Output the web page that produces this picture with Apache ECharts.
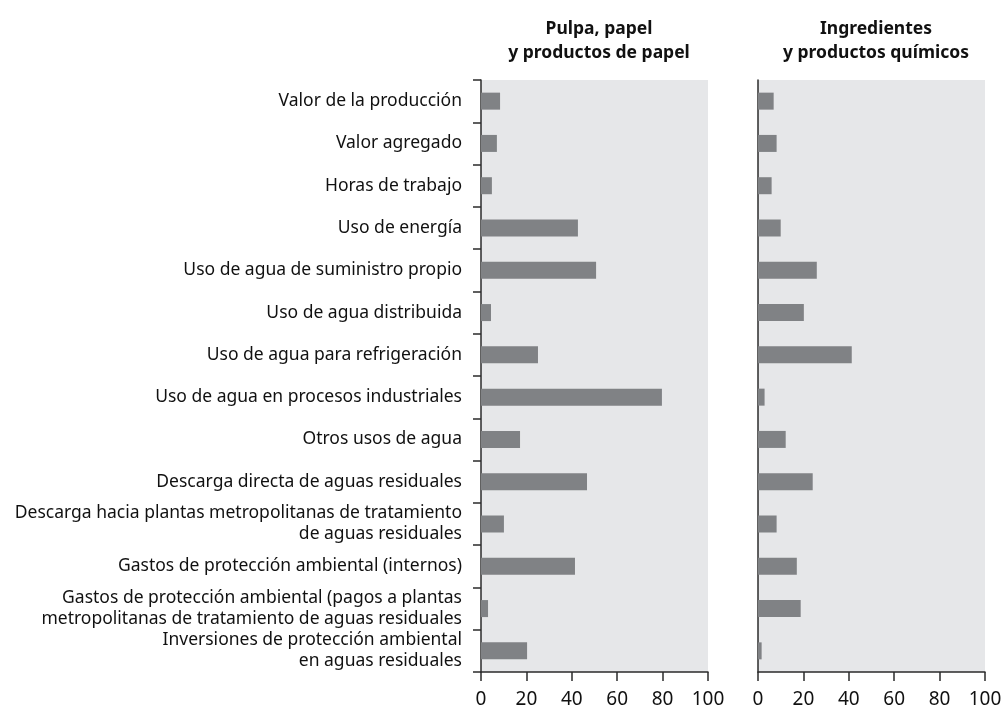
<!DOCTYPE html>
<html>
<head>
<meta charset="utf-8">
<script src="https://cdn.jsdelivr.net/npm/echarts@6/dist/echarts.min.js"></script>
<style>
html,body{margin:0;padding:0;background:#fff;}
#c{width:1003px;height:706px;}
</style>
</head>
<body>
<div id="c"></div>
<script>
const categories = [
  'Valor de la producción',
  'Valor agregado',
  'Horas de trabajo',
  'Uso de energía',
  'Uso de agua de suministro propio',
  'Uso de agua distribuida',
  'Uso de agua para refrigeración',
  'Uso de agua en procesos industriales',
  'Otros usos de agua',
  'Descarga directa de aguas residuales',
  'Descarga hacia plantas metropolitanas de tratamiento\nde aguas residuales',
  'Gastos de protección ambiental (internos)',
  'Gastos de protección ambiental (pagos a plantas\nmetropolitanas de tratamiento de aguas residuales',
  'Inversiones de protección ambiental\nen aguas residuales'
];
const panelTitles = ['Pulpa, papel\ny productos de papel', 'Ingredientes\ny productos químicos'];
const pulpaValues = [8.4, 7.0, 4.8, 42.7, 50.7, 4.4, 25.1, 79.7, 17.2, 46.7, 10.1, 41.4, 3.1, 20.3];
const quimicosValues = [6.9, 8.2, 6.0, 10.0, 25.9, 20.2, 41.3, 2.9, 12.2, 24.1, 8.2, 17.1, 18.8, 1.6];
const xTicks = [0, 20, 40, 60, 80, 100];

const FONT = 'Noto Sans';
const bg = '#e6e7e9';
const barColor = '#808285';
const axisColor = '#2b2b2b';

const chart = echarts.init(document.getElementById('c'), null, {renderer: 'canvas'});

function xAxisFor(idx) {
  return {
    type: 'value', gridIndex: idx, min: xTicks[0], max: xTicks[xTicks.length - 1],
    interval: xTicks[1] - xTicks[0],
    axisLine: {show: true, lineStyle: {color: axisColor, width: 1.5}},
    axisTick: {show: true, length: 9, lineStyle: {color: axisColor, width: 1.5}},
    axisLabel: {color: '#111', fontFamily: FONT, fontSize: 19, margin: 18},
    splitLine: {show: false}
  };
}

chart.setOption({
  animation: false,
  title: [
    {text: panelTitles[0], left: 594, top: 12, textAlign: 'center',
     textStyle: {fontFamily: FONT, fontWeight: 'bold', fontSize: 17.5, lineHeight: 24, color: '#111'}},
    {text: panelTitles[1], left: 871, top: 12, textAlign: 'center',
     textStyle: {fontFamily: FONT, fontWeight: 'bold', fontSize: 17.5, lineHeight: 24, color: '#111'}}
  ],
  grid: [
    {left: 481, width: 227, top: 80, height: 592, show: true, backgroundColor: bg, borderWidth: 0,
     containLabel: false, outerBoundsMode: 'none'},
    {left: 758, width: 227, top: 80, height: 592, show: true, backgroundColor: bg, borderWidth: 0,
     containLabel: false, outerBoundsMode: 'none'}
  ],
  xAxis: [xAxisFor(0), xAxisFor(1)],
  yAxis: [
    {type: 'category', gridIndex: 0, data: categories, inverse: true,
     axisLine: {show: true, lineStyle: {color: axisColor, width: 1.5}},
     axisTick: {show: true, length: 8, lineStyle: {color: axisColor, width: 1.5}},
     axisLabel: {color: '#111', fontFamily: FONT, fontSize: 17.5, lineHeight: 21, margin: 19, align: 'right'}},
    {type: 'category', gridIndex: 1, data: categories, inverse: true,
     axisLine: {show: true, lineStyle: {color: axisColor, width: 1.5}},
     axisTick: {show: false}, axisLabel: {show: false}}
  ],
  series: [
    {type: 'bar', xAxisIndex: 0, yAxisIndex: 0, data: pulpaValues, barWidth: 17,
     itemStyle: {color: barColor}, silent: true},
    {type: 'bar', xAxisIndex: 1, yAxisIndex: 1, data: quimicosValues, barWidth: 17,
     itemStyle: {color: barColor}, silent: true}
  ]
});
</script>
</body>
</html>
